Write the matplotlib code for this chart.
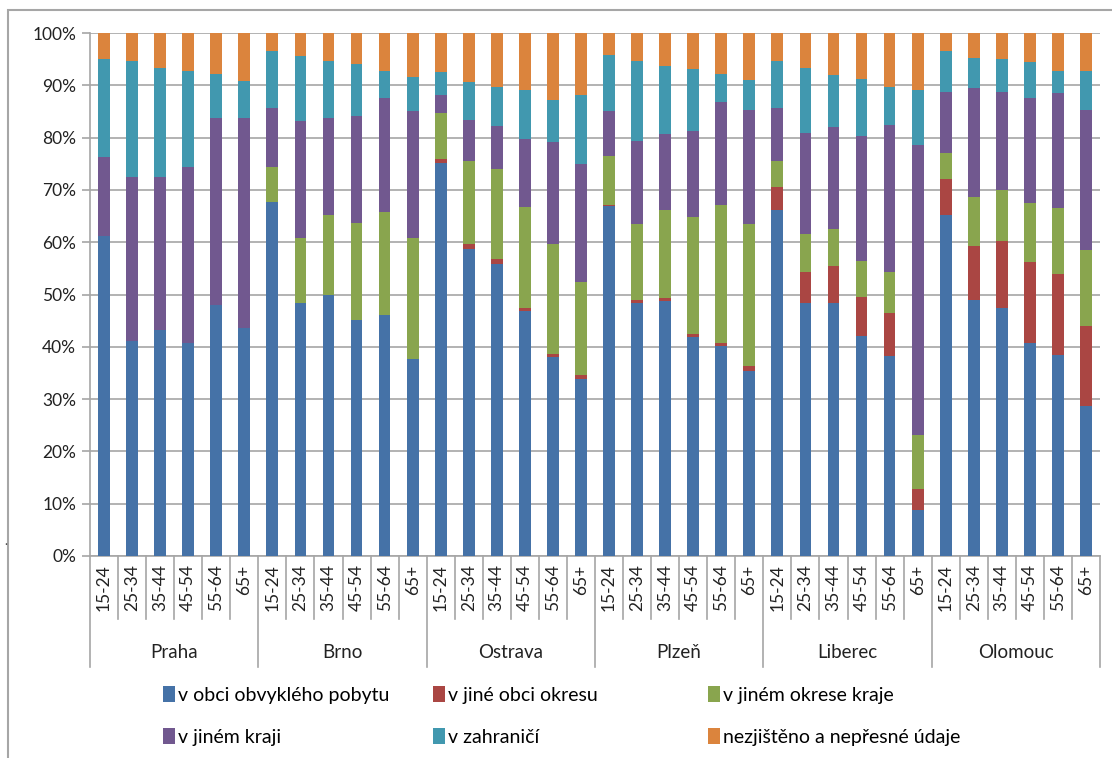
import numpy as np
import matplotlib.pyplot as plt
from matplotlib.patches import Rectangle, Patch
from matplotlib.transforms import blended_transform_factory

plt.rcParams['font.family'] = ['Lato', 'DejaVu Sans']

cities = ["Praha", "Brno", "Ostrava", "Plzeň", "Liberec", "Olomouc"]
ages = ["15-24", "25-34", "35-44", "45-54", "55-64", "65+"]
series_names = ["v obci obvyklého pobytu", "v jiné obci okresu", "v jiném okrese kraje",
                "v jiném kraji", "v zahraničí", "nezjištěno a nepřesné údaje"]

# percent shares, 6 age groups per city in city order
obec = [61.1, 41.1, 43.2, 40.8, 48.0, 43.6,
        67.7, 48.3, 49.9, 45.1, 46.1, 37.7,
        75.2, 58.7, 55.9, 46.8, 38.0, 33.9,
        66.9, 48.4, 48.7, 41.8, 40.2, 35.4,
        66.1, 48.4, 48.4, 42.0, 38.3, 8.8,
        65.2, 48.9, 47.4, 40.8, 38.5, 28.6]
okres = [0, 0, 0, 0, 0, 0,
         0, 0, 0, 0, 0, 0,
         0.7, 0.9, 0.9, 0.6, 0.7, 0.7,
         0.3, 0.5, 0.6, 0.6, 0.6, 1.0,
         4.5, 5.9, 7.1, 7.5, 8.1, 4.1,
         6.9, 10.4, 12.8, 15.4, 15.5, 15.3]
kraj_okres = [0, 0, 0, 0, 0, 0,
              6.7, 12.5, 15.3, 18.5, 19.7, 23.1,
              8.8, 16.0, 17.2, 19.4, 20.9, 17.8,
              9.3, 14.5, 16.9, 22.5, 26.3, 27.0,
              5.0, 7.2, 7.0, 7.0, 7.9, 10.3,
              5.0, 9.3, 9.7, 11.2, 12.5, 14.7]
jiny_kraj = [15.1, 31.4, 29.3, 33.6, 35.8, 40.2,
             11.2, 22.3, 18.6, 20.5, 21.7, 24.2,
             3.4, 7.8, 8.2, 12.9, 19.5, 22.5,
             8.5, 15.9, 14.4, 16.3, 19.8, 21.9,
             10.0, 19.4, 19.6, 23.8, 28.2, 55.3,
             11.6, 20.8, 18.8, 20.1, 22.0, 26.7]
zahranici = [18.8, 22.2, 20.9, 18.4, 8.4, 7.1,
             10.9, 12.5, 10.9, 10.0, 5.3, 6.5,
             4.5, 7.2, 7.5, 9.4, 8.1, 13.2,
             10.7, 15.4, 13.1, 11.9, 5.3, 5.7,
             9.1, 12.5, 9.8, 10.9, 7.2, 10.6,
             7.9, 5.9, 6.3, 6.9, 4.3, 7.5]
nezjisteno = [5.0, 5.3, 6.6, 7.2, 7.8, 9.1,
              3.5, 4.4, 5.3, 5.9, 7.2, 8.5,
              7.4, 9.4, 10.3, 10.9, 12.8, 11.9,
              4.3, 5.3, 6.3, 6.9, 7.8, 9.0,
              5.3, 6.6, 8.1, 8.8, 10.3, 10.9,
              3.4, 4.7, 5.0, 5.6, 7.2, 7.2]

colors = ["#4572A7", "#AA4643", "#89A54E", "#71588F", "#4198AF", "#DB843D"]
grey = "#a6a6a6"

fig = plt.figure(figsize=(11.12, 7.58), dpi=100)
ax = fig.add_axes([90/1112, 1-556/758, 1010/1112, 523/758])

x = np.arange(len(obec))
bottom = np.zeros(len(obec))
data = [obec, okres, kraj_okres, jiny_kraj, zahranici, nezjisteno]
for vals, col in zip(data, colors):
    ax.bar(x, vals, bottom=bottom, width=0.42, color=col, zorder=3)
    bottom += np.array(vals)

ax.set_xlim(-0.5, len(obec) - 0.5)
ax.set_ylim(0, 100)
ax.set_yticks(range(0, 101, 10))
ax.set_yticklabels([f"{v}%" for v in range(0, 101, 10)], fontsize=12.5, color="#222222")
ax.yaxis.grid(True, color=grey, lw=1.2, zorder=0)
ax.tick_params(axis="y", length=6, color=grey, width=1.2, pad=4)

ax.set_xticks(x)
ax.set_xticklabels(ages * len(cities), rotation=90, fontsize=12.5, color="#222222")
ax.tick_params(axis="x", length=0, pad=6)

for s in ["top", "right"]:
    ax.spines[s].set_visible(False)
for s in ["left", "bottom"]:
    ax.spines[s].set_color(grey)
    ax.spines[s].set_linewidth(1.2)

# category separators below the axis
tr = blended_transform_factory(ax.transData, ax.transAxes)
for i in range(len(obec) + 1):
    low = -0.212 if i % 6 == 0 else -0.12
    ax.plot([i - 0.5, i - 0.5], [0, low], transform=tr, color=grey, lw=1.2, clip_on=False)

for j, c in enumerate(cities):
    ax.text(j * 6 + 2.5, -0.184, c, transform=tr, ha="center", va="center",
            fontsize=13.5, color="#222222")

# legend: 2 rows x 3 columns, one entry each
handles = [Patch(facecolor=c) for c in colors]
col_x = [163/1112, 433/1112, 708/1112]
row_y = [1 - 695/758, 1 - 737/758]
for k in range(6):
    fig.legend([handles[k]], [series_names[k]], loc="center left",
               bbox_to_anchor=(col_x[k % 3], row_y[k // 3]), frameon=False,
               fontsize=14, handlelength=0.6, handleheight=0.85, handletextpad=0.15,
               borderpad=0, borderaxespad=0)

# outer chart border
fig.patches.append(Rectangle((8/1112, -0.1), 1.2, 1.1 - 10/758, transform=fig.transFigure,
                             fill=False, edgecolor=grey, lw=1.5))
fig.text(4/1112, 1 - 545/758, ".", fontsize=9, color="#444444")

fig.savefig("out.png", dpi=100)
